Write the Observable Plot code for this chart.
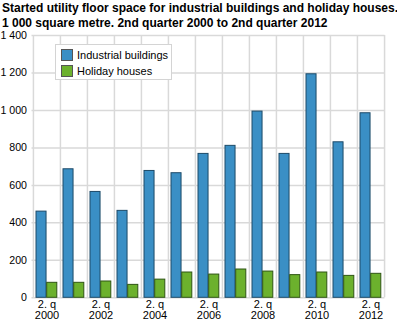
<!DOCTYPE html>
<html>
<head>
<meta charset="utf-8">
<script src="https://cdn.jsdelivr.net/npm/d3@7"></script>
<script src="https://cdn.jsdelivr.net/npm/@observablehq/plot@0.6"></script>
<style>
  html, body { margin: 0; padding: 0; background: #fff; }
  body { width: 397px; height: 324px; overflow: hidden; font-family: "Liberation Sans", Arimo, Arial, sans-serif; }
  #title { position: absolute; left: 2px; top: 1px; font-weight: bold; font-size: 12px; line-height: 15px; color: #000; white-space: nowrap; }
  #wrap { position: absolute; left: 0; top: 30px; }
  #legend { position: absolute; left: 55px; top: 14px; width: 115px; height: 34px; background: #fff; border: 1px solid #d4d4d4; font-size: 11px; color: #000; }
  .item { position: absolute; left: 5px; height: 14px; line-height: 14px; white-space: nowrap; }
  .sw { display: inline-block; width: 10px; height: 10px; border: 1px solid #555; vertical-align: -2px; margin-right: 4px; }
</style>
</head>
<body>
<div id="title">Started utility floor space for industrial buildings and holiday houses.<br>1 000 square metre. 2nd quarter 2000 to 2nd quarter 2012</div>
<div id="wrap"></div>
<script>
const years = [2000, 2001, 2002, 2003, 2004, 2005, 2006, 2007, 2008, 2009, 2010, 2011, 2012];
const industrial = [460, 686, 565, 464, 677, 665, 768, 811, 994, 768, 1193, 830, 985];
const holiday = [80, 80, 87, 69, 97, 135, 124, 151, 140, 121, 135, 117, 128];
const seriesNames = ["Industrial buildings", "Holiday houses"];
const seriesColors = ["#3a8fc5", "#6cb12d"];
const seriesStrokes = ["#1d4a68", "#2f5514"];
const yTicks = [0, 200, 400, 600, 800, 1000, 1200, 1400];
const labelYears = [2000, 2002, 2004, 2006, 2008, 2010, 2012];

const W = 397, H = 294;
const mL = 31.5, mR = 12.5, mT = 5, mB = 26.7;
const bw = (W - mL - mR) / years.length;

const indData = years.map((y, i) => ({year: y, value: industrial[i]}));
const holData = years.map((y, i) => ({year: y, value: holiday[i]}));

const fmt = v => d3.format(",")(v).replace(/,/g, " ");
const grid = "#d9d9d9";

const chart = Plot.plot({
  width: W, height: H,
  marginLeft: mL, marginRight: mR, marginTop: mT, marginBottom: mB,
  style: {fontFamily: "'Liberation Sans', Arimo, Arial, sans-serif", fontSize: "11px", color: "#000", background: "#fff"},
  x: {type: "band", domain: years, padding: 0, label: null},
  y: {domain: [0, 1400], label: null},
  marks: [
    Plot.ruleY(yTicks, {stroke: grid, strokeWidth: 1.5}),
    Plot.ruleX(years, {x: d => d, dx: -bw / 2, stroke: grid, strokeWidth: 1.5}),
    Plot.ruleX([years[years.length - 1]], {x: d => d, dx: bw / 2, stroke: grid, strokeWidth: 1.5}),
    Plot.barY(indData, {x: "year", y: "value", fill: seriesColors[0], stroke: seriesStrokes[0], strokeWidth: 1, insetLeft: 3, insetRight: bw - 13.2}),
    Plot.barY(holData, {x: "year", y: "value", fill: seriesColors[1], stroke: seriesStrokes[1], strokeWidth: 1, insetLeft: 13.7, insetRight: 3.2}),
    Plot.axisY({ticks: yTicks, tickSize: 0, tickPadding: 5, tickFormat: fmt, fontSize: 10.6, label: null}),
    Plot.axisX({ticks: labelYears, tickSize: 0, tickPadding: 3, tickFormat: d => "2. q\n" + d, fontSize: 11, lineHeight: 0.95, label: null})
  ]
});
const wrap = document.getElementById("wrap");
wrap.appendChild(chart);

const legend = document.createElement("div");
legend.id = "legend";
seriesNames.forEach((name, i) => {
  const it = document.createElement("div");
  it.className = "item";
  it.style.top = (3 + i * 16) + "px";
  it.innerHTML = `<span class="sw" style="background:${seriesColors[i]}"></span>${name}`;
  legend.appendChild(it);
});
wrap.appendChild(legend);
</script>
</body>
</html>
